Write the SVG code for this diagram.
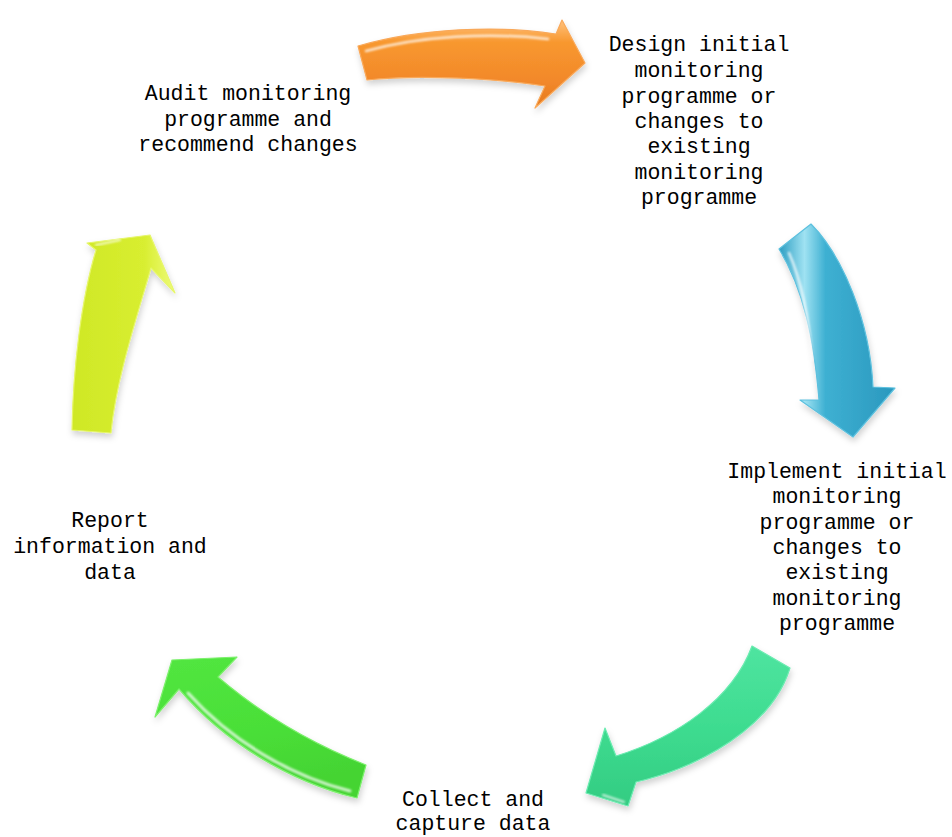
<svg xmlns="http://www.w3.org/2000/svg" width="952" height="837" viewBox="0 0 952 837">
<style>
  .lbl { font-family: "Liberation Mono", "DejaVu Sans Mono", monospace; font-size: 21.5px; fill: #000; text-anchor: middle; }
  .arr { stroke-width: 1.2; stroke-linejoin: round; filter: url(#sh); }
  .hl { fill: none; stroke: #fff; stroke-linecap: round; opacity: 0.75; filter: url(#bl); }
</style>
<defs>
  <filter id="sh" x="-20%" y="-20%" width="140%" height="150%">
    <feDropShadow dx="1" dy="4" stdDeviation="3" flood-color="#000" flood-opacity="0.18"/>
  </filter>
  <filter id="bl" x="-20%" y="-20%" width="140%" height="140%">
    <feGaussianBlur stdDeviation="1.2"/>
  </filter>
  <linearGradient id="gOr" x1="0" y1="0" x2="0" y2="1">
    <stop offset="0" stop-color="#FFC27E"/>
    <stop offset="0.25" stop-color="#F8982F"/>
    <stop offset="0.7" stop-color="#F2882A"/>
    <stop offset="1" stop-color="#E57A1E"/>
  </linearGradient>
  <linearGradient id="gBl" x1="0" y1="0" x2="1" y2="0">
    <stop offset="0" stop-color="#2C9DC2"/>
    <stop offset="0.22" stop-color="#9FE2F2"/>
    <stop offset="0.4" stop-color="#3EB0D2"/>
    <stop offset="1" stop-color="#2A98BE"/>
  </linearGradient>
  <linearGradient id="gTe" x1="0" y1="0" x2="0" y2="1">
    <stop offset="0" stop-color="#4FE4A0"/>
    <stop offset="0.5" stop-color="#3EDC90"/>
    <stop offset="1" stop-color="#33CC82"/>
  </linearGradient>
  <linearGradient id="gGr" x1="0" y1="0" x2="0.3" y2="1">
    <stop offset="0" stop-color="#52E640"/>
    <stop offset="0.6" stop-color="#4ADF38"/>
    <stop offset="1" stop-color="#44D433"/>
  </linearGradient>
  <linearGradient id="gYe" x1="0" y1="0" x2="1" y2="0">
    <stop offset="0" stop-color="#CFE826"/>
    <stop offset="0.7" stop-color="#D8EE30"/>
    <stop offset="1" stop-color="#EEFB7A"/>
  </linearGradient>
</defs>

<g id="connectors">
  <g id="arrow-orange">
    <path class="arr" fill="url(#gOr)" stroke="#F9A95A" d="M358,46 C420,28 500,25 556,34 L562,20 L585,63 L535,108 L545,86 C500,79 420,74 367,80 Z"/>
    <path class="hl" stroke-width="2.5" d="M366,51 C420,36 490,32 548,39"/>
  </g>
  <g id="arrow-blue">
    <path class="arr" fill="url(#gBl)" stroke="#5CC0DE" d="M779,249 L811,224 C842,255 870,320 873,387 L895,388 L853,437 L800,400 L819,400 C814,340 804,290 779,249 Z"/>
    <path class="hl" stroke-width="2.5" d="M789,253 C801,280 809,320 812,360"/>
  </g>
  <g id="arrow-teal">
    <path class="arr" fill="url(#gTe)" stroke="#6AEBB0" d="M752,646 L790,668 C772,727 700,767 636,782 L628,806 L586,793 L605,728 L616,756 C678,737 733,698 752,646 Z"/>
    <path class="hl" stroke-width="2" d="M603,795 L624,802"/>
  </g>
  <g id="arrow-green">
    <path class="arr" fill="url(#gGr)" stroke="#7CF06C" d="M172,660 L237,657 L218,677 C260,713 310,743 366,765 L357,798 C290,782 224,742 179,689 L155,717 Z"/>
    <path class="hl" stroke-width="3" d="M188,693 C230,740 290,776 350,791"/>
  </g>
  <g id="arrow-yellow">
    <path class="arr" fill="url(#gYe)" stroke="#E6F66A" d="M150,235 L175,293 L151,268 C136,320 116,380 111,433 L72,430 C73,370 81,300 96,250 L87,243 Z"/>
    <path class="hl" stroke-width="2" d="M96,245 L120,240"/>
  </g>
</g>

<g id="node-audit">
  <text class="lbl" x="248" y="100">Audit monitoring</text>
  <text class="lbl" x="248" y="126">programme and</text>
  <text class="lbl" x="248" y="151">recommend changes</text>
</g>
<g id="node-design">
  <text class="lbl" x="699" y="51">Design initial</text>
  <text class="lbl" x="699" y="77">monitoring</text>
  <text class="lbl" x="699" y="103">programme or</text>
  <text class="lbl" x="699" y="128">changes to</text>
  <text class="lbl" x="699" y="153">existing</text>
  <text class="lbl" x="699" y="179">monitoring</text>
  <text class="lbl" x="699" y="204">programme</text>
</g>
<g id="node-implement">
  <text class="lbl" x="837" y="478">Implement initial</text>
  <text class="lbl" x="837" y="503">monitoring</text>
  <text class="lbl" x="837" y="529">programme or</text>
  <text class="lbl" x="837" y="554">changes to</text>
  <text class="lbl" x="837" y="579">existing</text>
  <text class="lbl" x="837" y="605">monitoring</text>
  <text class="lbl" x="837" y="630">programme</text>
</g>
<g id="node-collect">
  <text class="lbl" x="473" y="806">Collect and</text>
  <text class="lbl" x="473" y="830">capture data</text>
</g>
<g id="node-report">
  <text class="lbl" x="110" y="527">Report</text>
  <text class="lbl" x="110" y="553">information and</text>
  <text class="lbl" x="110" y="579">data</text>
</g>
</svg>
